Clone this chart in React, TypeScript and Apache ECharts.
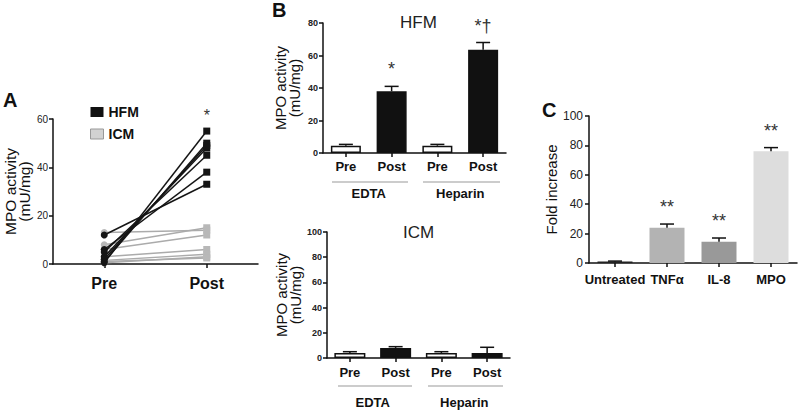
import React, { useEffect, useRef } from "react";
import * as echarts from "echarts";

const FONT = "'Liberation Sans', Arial, sans-serif";

// Panel A
const prePost = ["Pre", "Post"];
const hfmPre = [12, 6, 5, 3, 2, 1, 0.5];
const hfmPost = [33, 38, 45, 48, 49, 50, 55];
const icmPre = [13, 8, 6, 3, 1.5, 0.5, 1];
const icmPost = [14, 15, 12, 6, 4, 3, 2.5];

// Panel B
const bCats = ["EDTA Pre", "EDTA Post", "Heparin Pre", "Heparin Post"];
const bGroups = ["EDTA", "Heparin"];
const hfmMean = [4.5, 38, 4.5, 63.5];
const hfmErr = [5.3, 41, 5.3, 68];
const hfmStars = ["", "*", "", "*†"];
const icmMean = [4, 8, 4, 4];
const icmErr = [5, 9, 5, 8.5];
const icmStars = ["", "", "", ""];

// Panel C
const cCats = ["Untreated", "TNFα", "IL-8", "MPO"];
const cMean = [1, 24, 14.5, 76];
const cErr = [1.3, 26.5, 17, 78.5];
const cStars = ["", "**", "**", "**"];
const cColors = ["#222222", "#b3b3b3", "#999999", "#dddddd"];

function errSeries(xIdx: number, yIdx: number, mean: number[], err: number[], stars: string[], capW: number, starSize: number) {
  return {
    type: "custom",
    xAxisIndex: xIdx,
    yAxisIndex: yIdx,
    z: 5,
    data: mean.map((m, i) => [i, err[i], m]),
    renderItem: (params: any, api: any) => {
      const x = api.value(0);
      const top = api.coord([x, api.value(1)]);
      const base = api.coord([x, api.value(2)]);
      const children: any[] = [
        { type: "line", shape: { x1: top[0], y1: base[1], x2: top[0], y2: top[1] }, style: { stroke: "#111", lineWidth: 1.5 } },
        { type: "line", shape: { x1: top[0] - capW / 2, y1: top[1], x2: top[0] + capW / 2, y2: top[1] }, style: { stroke: "#111", lineWidth: 1.5 } },
      ];
      const s = stars[params.dataIndex];
      if (s) {
        children.push({
          type: "text",
          style: {
            text: s, x: top[0], y: top[1] - 8, align: "center", verticalAlign: "bottom",
            fontSize: starSize, fontFamily: FONT, fill: "#333",
          },
        });
      }
      return { type: "group", children };
    },
  };
}

export default function App() {
  const ref = useRef<HTMLDivElement>(null);
  useEffect(() => {
    document.body.style.margin = "0";
    const chart = echarts.init(ref.current!, null, { renderer: "svg" });
    const axisLine = { show: true, lineStyle: { color: "#111", width: 1.5 } };
    const axisTick = { show: true, length: 4, lineStyle: { color: "#111", width: 1.5 } };

    const series: any[] = [];
    hfmPre.forEach((p, i) => {
      series.push({
        type: "line", name: "HFM", xAxisIndex: 0, yAxisIndex: 0, z: 4,
        data: [
          { value: p, symbol: "circle" },
          {
            value: hfmPost[i], symbol: "rect",
            label: hfmPost[i] === Math.max(...hfmPost)
              ? { show: true, formatter: "*", position: "top", distance: 4, fontSize: 16, color: "#333", fontFamily: FONT }
              : { show: false },
          },
        ],
        symbolSize: 7,
        itemStyle: { color: "#151515" },
        lineStyle: { color: "#151515", width: 1.5 },
      });
    });
    icmPre.forEach((p, i) => {
      series.push({
        type: "line", name: "ICM", xAxisIndex: 0, yAxisIndex: 0, z: 3,
        data: [
          { value: p, symbol: "circle" },
          { value: icmPost[i], symbol: "rect" },
        ],
        symbolSize: 7,
        itemStyle: { color: "#b8b8b8" },
        lineStyle: { color: "#ababab", width: 1.5 },
      });
    });

    series.push({
      type: "bar", xAxisIndex: 1, yAxisIndex: 1, barWidth: 30,
      data: hfmMean.map((v, i) => ({
        value: v,
        itemStyle: i % 2 === 0
          ? { color: "#ffffff", borderColor: "#111", borderWidth: 1.5 }
          : { color: "#111111", borderColor: "#111", borderWidth: 1.5 },
      })),
    });
    series.push(errSeries(1, 1, hfmMean, hfmErr, hfmStars, 14, 18));

    series.push({
      type: "bar", xAxisIndex: 3, yAxisIndex: 2, barWidth: 31,
      data: icmMean.map((v, i) => ({
        value: v,
        itemStyle: i % 2 === 0
          ? { color: "#ffffff", borderColor: "#111", borderWidth: 1.5 }
          : { color: "#111111", borderColor: "#111", borderWidth: 1.5 },
      })),
    });
    series.push(errSeries(3, 2, icmMean, icmErr, icmStars, 14, 18));

    series.push({
      type: "bar", xAxisIndex: 5, yAxisIndex: 3, barWidth: 35,
      data: cMean.map((v, i) => ({ value: v, itemStyle: { color: cColors[i] } })),
    });
    series.push(errSeries(5, 3, cMean, cErr, cStars, 14, 18));

    const yName = (name: string, gap: number, size: number) => ({
      name, nameLocation: "middle", nameGap: gap, nameRotate: 90,
      nameTextStyle: { fontSize: size, fontFamily: FONT, color: "#111", lineHeight: 14 },
    });

    const option: any = {
      animation: false,
      textStyle: { fontFamily: FONT },
      grid: [
        { left: 53, top: 119, width: 205, height: 145 },
        { left: 323, top: 23, width: 183, height: 130 },
        { left: 327, top: 232, width: 183, height: 126 },
        { left: 589, top: 116, width: 208, height: 147 },
      ],
      legend: {
        orient: "vertical", left: 85, top: 100, itemWidth: 13, itemHeight: 10, itemGap: 8,
        icon: "rect",
        textStyle: { fontSize: 14, fontWeight: "bold", color: "#111", fontFamily: FONT },
        data: [
          { name: "HFM", itemStyle: { color: "#111111" } },
          { name: "ICM", itemStyle: { color: "#d2d2d2", borderColor: "#999", borderWidth: 1 } },
        ],
      },
      xAxis: [
        {
          gridIndex: 0, type: "category", data: prePost, axisLine, axisTick: { ...axisTick, alignWithLabel: true },
          axisLabel: { fontSize: 16, fontWeight: "bold", color: "#111", margin: 11 },
        },
        {
          gridIndex: 1, type: "category", data: bCats, axisLine, axisTick: { ...axisTick, alignWithLabel: true },
          axisLabel: { fontSize: 13, fontWeight: "bold", color: "#111", margin: 7, formatter: (v: string) => v.split(" ")[1] },
        },
        {
          gridIndex: 1, type: "category", data: bGroups, position: "bottom", offset: 27,
          axisLine: { show: false }, axisTick: { show: false },
          axisLabel: { fontSize: 13, fontWeight: "bold", color: "#111", margin: 7 },
        },
        {
          gridIndex: 2, type: "category", data: bCats, axisLine, axisTick: { ...axisTick, alignWithLabel: true },
          axisLabel: { fontSize: 13, fontWeight: "bold", color: "#111", margin: 8, formatter: (v: string) => v.split(" ")[1] },
        },
        {
          gridIndex: 2, type: "category", data: bGroups, position: "bottom", offset: 31,
          axisLine: { show: false }, axisTick: { show: false },
          axisLabel: { fontSize: 13, fontWeight: "bold", color: "#111", margin: 7 },
        },
        {
          gridIndex: 3, type: "category", data: cCats, axisLine, axisTick: { ...axisTick, alignWithLabel: true },
          axisLabel: { fontSize: 13, fontWeight: "bold", color: "#111", margin: 10, interval: 0 },
        },
      ],
      yAxis: [
        {
          gridIndex: 0, type: "value", min: 0, max: 60, interval: 20, axisLine, axisTick, splitLine: { show: false },
          axisLabel: { fontSize: 10, color: "#222", margin: 5 }, ...yName("MPO activity\n(mU/mg)", 19, 15.5),
        },
        {
          gridIndex: 1, type: "value", min: 0, max: 80, interval: 20, axisLine, axisTick, splitLine: { show: false },
          axisLabel: { fontSize: 9, fontWeight: "bold", color: "#222", margin: 5 }, ...yName("MPO activity\n(mU/mg)", 22, 15),
        },
        {
          gridIndex: 2, type: "value", min: 0, max: 100, interval: 20, axisLine, axisTick, splitLine: { show: false },
          axisLabel: { fontSize: 9, fontWeight: "bold", color: "#222", margin: 5 }, ...yName("MPO activity\n(mU/mg)", 25, 15),
        },
        {
          gridIndex: 3, type: "value", min: 0, max: 100, interval: 20, axisLine, axisTick, splitLine: { show: false },
          axisLabel: { fontSize: 12, color: "#222", margin: 6 }, ...yName("Fold increase", 27, 15),
        },
      ],
      series,
      graphic: [
        { type: "text", left: 3, top: 90, style: { text: "A", fontSize: 20, fontWeight: "bold", fill: "#111", fontFamily: FONT } },
        { type: "text", left: 272, top: 0, style: { text: "B", fontSize: 20, fontWeight: "bold", fill: "#111", fontFamily: FONT } },
        { type: "text", left: 542, top: 100, style: { text: "C", fontSize: 20, fontWeight: "bold", fill: "#111", fontFamily: FONT } },
        { type: "text", left: 400, top: 14, style: { text: "HFM", fontSize: 17, fill: "#222", fontFamily: FONT } },
        { type: "text", left: 403, top: 224, style: { text: "ICM", fontSize: 17, fill: "#222", fontFamily: FONT } },
        { type: "line", shape: { x1: 332, y1: 182, x2: 408, y2: 182 }, style: { stroke: "#999", lineWidth: 1.2 } },
        { type: "line", shape: { x1: 423, y1: 182, x2: 500, y2: 182 }, style: { stroke: "#999", lineWidth: 1.2 } },
        { type: "line", shape: { x1: 338, y1: 386, x2: 412, y2: 386 }, style: { stroke: "#999", lineWidth: 1.2 } },
        { type: "line", shape: { x1: 428, y1: 386, x2: 503, y2: 386 }, style: { stroke: "#999", lineWidth: 1.2 } },
      ],
    };
    chart.setOption(option);
    return () => chart.dispose();
  }, []);
  return <div ref={ref} style={{ width: 800, height: 410, position: "absolute", left: 0, top: 0, background: "#fff" }} />;
}
